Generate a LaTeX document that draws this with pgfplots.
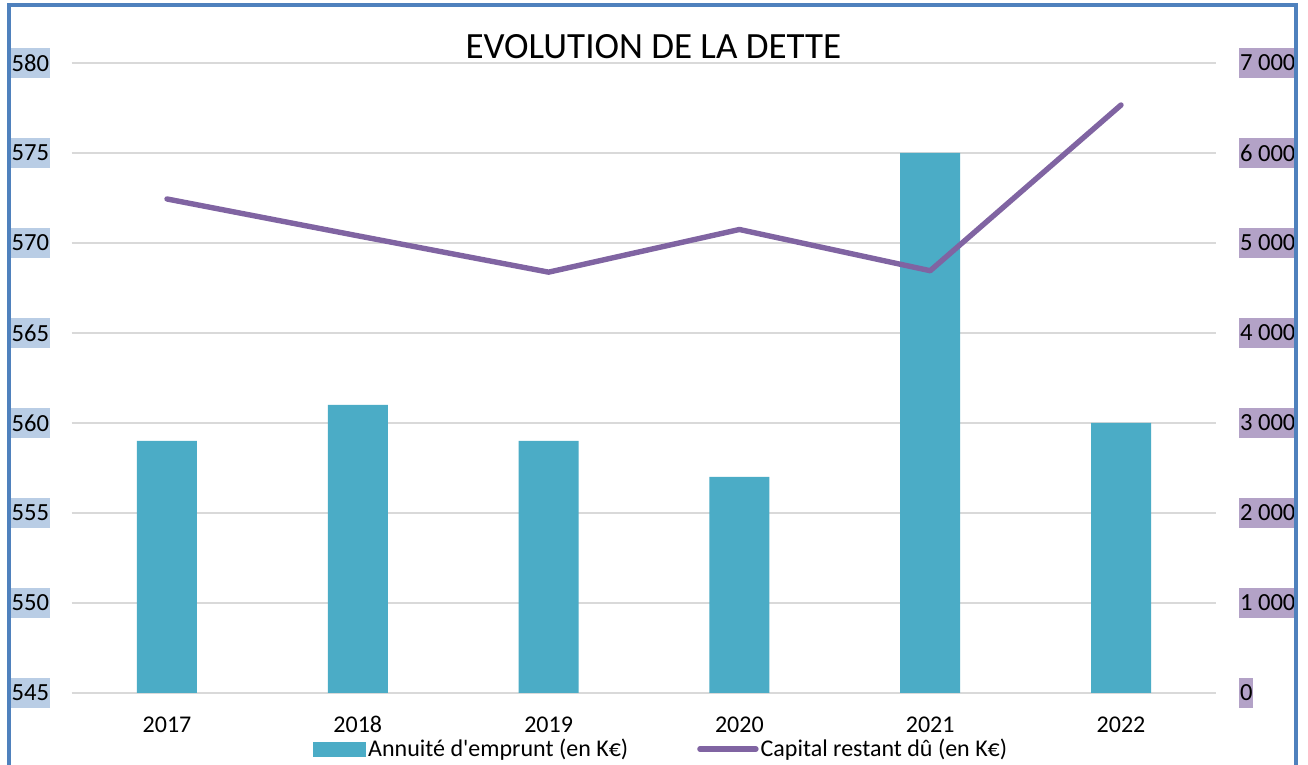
\documentclass[border=0pt]{standalone}
\usepackage{fontspec}
\setmainfont{Carlito}
\usepackage{pgfplots}
\pgfplotsset{compat=1.18}
\definecolor{barcol}{HTML}{4BACC6}
\definecolor{linecol}{HTML}{8064A2}
\definecolor{gridcol}{HTML}{D9D9D9}
\definecolor{leftbox}{HTML}{B9CDE5}
\definecolor{rightbox}{HTML}{B3A2C7}
\definecolor{framecol}{HTML}{4F81BD}
\begin{document}
\begin{tikzpicture}
\useasboundingbox (0,0) rectangle (654pt,382.5pt);
\fill[white] (0,0) rectangle (654pt,382.5pt);
\begin{axis}[
  at={(35.8pt,36pt)}, anchor=south west,
  scale only axis, width=572.4pt, height=315pt,
  xmin=-0.5, xmax=5.5, ymin=545, ymax=580,
  axis x line*=bottom, axis y line*=left,
  axis line style={draw=none},
  major tick length=0pt,
  ytick={545,550,...,580},
  xtick={0,1,2,3,4,5},
  xticklabels={2017,2018,2019,2020,2021,2022},
  ymajorgrids, grid style={gridcol, line width=1pt},
  /pgf/number format/assume math mode=true,
  yticklabel style={font=\fontsize{12.3}{14}\selectfont, fill=leftbox, inner xsep=0.3pt, inner ysep=0pt, minimum height=15pt, anchor=east, xshift=-10.8pt},
  xticklabel style={font=\fontsize{12}{14}\selectfont, anchor=base, yshift=-20pt},
  ybar, bar width=30pt,
]
\addplot[fill=barcol, draw=none] coordinates {(0,559) (1,561) (2,559) (3,557) (4,575) (5,560)};
\end{axis}
\begin{axis}[
  at={(35.8pt,36pt)}, anchor=south west,
  scale only axis, width=572.4pt, height=315pt,
  xmin=-0.5, xmax=5.5, ymin=0, ymax=7000,
  axis x line=none, axis y line*=right,
  axis line style={draw=none},
  major tick length=0pt,
  ytick={0,1000,2000,3000,4000,5000,6000,7000},
  yticklabels={0,1 000,2 000,3 000,4 000,5 000,6 000,7 000},
  /pgf/number format/assume math mode=true,
  yticklabel style={font=\fontsize{12.3}{14}\selectfont, fill=rightbox, inner xsep=0.3pt, inner ysep=0pt, minimum height=15pt, anchor=west, xshift=11.3pt},
  legend columns=2,
  legend style={at={(0.2109,-0.0889)}, anchor=west, draw=none, fill=none, inner sep=0pt,
    font=\fontsize{12}{14}\selectfont, nodes={inner sep=1pt},
    /tikz/every even column/.append style={column sep=33.5pt}},
]
\addlegendimage{legend image code/.code={\fill[barcol] (0pt,-3.5pt) rectangle (26pt,3.5pt);}}
\addlegendentry{Annuité d\textquotesingle emprunt (en K€)}
\addplot[linecol, line width=2.7pt, line join=round, line cap=round,
  legend image code/.code={\draw[linecol, line width=2.7pt, line cap=round] (0pt,0pt) -- (28pt,0pt);}]
  coordinates {(0,5489) (1,5080) (2,4676) (3,5150) (4,4692) (5,6533)};
\addlegendentry{Capital restant dû (en K€)}
\end{axis}
\node[font=\fontsize{18.5}{22}\selectfont, anchor=base] at (326.75pt,353pt) {EVOLUTION DE LA DETTE};
\draw[framecol, line width=2pt] (4.4pt,-5pt) -- (4.4pt,379.85pt) -- (647.75pt,379.85pt) -- (647.75pt,-5pt);
\end{tikzpicture}
\end{document}
